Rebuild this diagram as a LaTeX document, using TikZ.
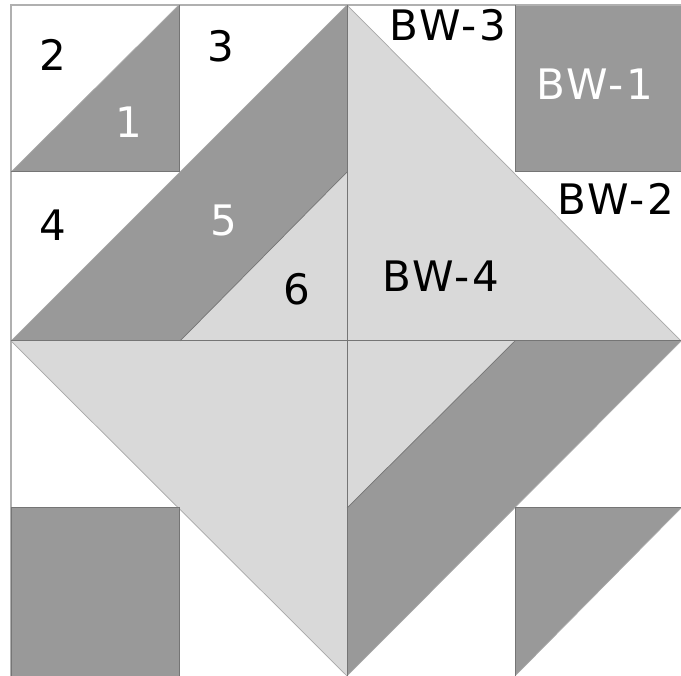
\documentclass[tikz,border=0pt]{standalone}
\usepackage{fontspec}
\setmainfont{DejaVu Sans}
\definecolor{darkfill}{HTML}{999999}
\definecolor{lightfill}{HTML}{D9D9D9}
\definecolor{frameline}{HTML}{B0B0B0}
\definecolor{seam}{HTML}{757575}
\definecolor{softedge}{HTML}{A8A8A8}
\tikzset{
  x=1pt,y=-1pt,
  dk/.style={fill=darkfill,draw=none},
  lt/.style={fill=lightfill,draw=none},
  seamline/.style={draw=seam,line width=1pt},
  softline/.style={draw=softedge,line width=0.7pt},
  lab/.style={inner sep=0pt,outer sep=0pt,text height=30.6pt,text depth=0pt,
    font=\fontsize{42}{42}\selectfont},
  wide/.style={lab,font=\fontsize{42}{42}\selectfont\addfontfeature{LetterSpace=6}}
}
\begin{document}
\begin{tikzpicture}
\useasboundingbox (0,0) rectangle (681,676);
\fill[white] (0,0) rectangle (681,676);
% light patches
\path[lt] (347,5) -- (681,341) -- (347,341) -- cycle;
\path[lt] (11,341) -- (347,341) -- (347,676) -- cycle;
\path[lt] (180,341) -- (347,172) -- (347,341) -- cycle;
\path[lt] (347,341) -- (515,341) -- (347,508) -- cycle;
% dark patches
\path[dk] (11,172) -- (179,5) -- (179,172) -- cycle;
\path[dk] (11,341) -- (347,5) -- (347,172) -- (180,341) -- cycle;
\path[dk] (515,5) rectangle (681,172);
\path[dk] (11,508) rectangle (179,676);
\path[dk] (515,341) -- (681,341) -- (347,676) -- (347,508) -- cycle;
\path[dk] (515,508) -- (681,508) -- (515,676) -- cycle;
% frame
\draw[frameline,line width=1.2pt] (11,676) -- (11,5) -- (681,5);
% soft diagonals
\draw[softline] (347,5) -- (681,341);
\draw[softline] (11,341) -- (347,676);
\draw[softline] (11,172) -- (179,5);
\draw[softline] (11,341) -- (347,5);
\draw[softline] (681,341) -- (347,676);
\draw[softline] (681,508) -- (515,676);
% dark seams
\draw[seamline] (11,341) -- (681,341);
\draw[seamline] (347,5) -- (347,676);
\draw[seamline] (179,5) -- (179,172) -- (11,172);
\draw[seamline] (515,5) -- (515,172) -- (681,172);
\draw[seamline] (11,508) -- (179,508) -- (179,676);
\draw[seamline] (11,508) -- (11,676);
\draw[seamline] (515,676) -- (515,508) -- (681,508);
\draw[seamline,line width=0.7pt] (180,341) -- (347,172);
\draw[seamline,line width=0.7pt] (515,341) -- (347,508);
% labels
\node[lab] (n2) at (52.5,55) {2};
\node[lab,text=white] (n1) at (129,122) {1};
\node[lab] (n3) at (220.5,46) {3};
\node[lab] (n4) at (52.5,225) {4};
\node[lab,text=white] (n5) at (224,220) {5};
\node[lab] (n6) at (296.5,289) {6};
\node[wide] (bw3) at (448,25) {BW-3};
\node[wide,text=white] (bw1) at (595,84) {BW-1};
\node[wide] (bw2) at (616,199) {BW-2};
\node[wide] (bw4) at (441,276) {BW-4};
\end{tikzpicture}
\end{document}
